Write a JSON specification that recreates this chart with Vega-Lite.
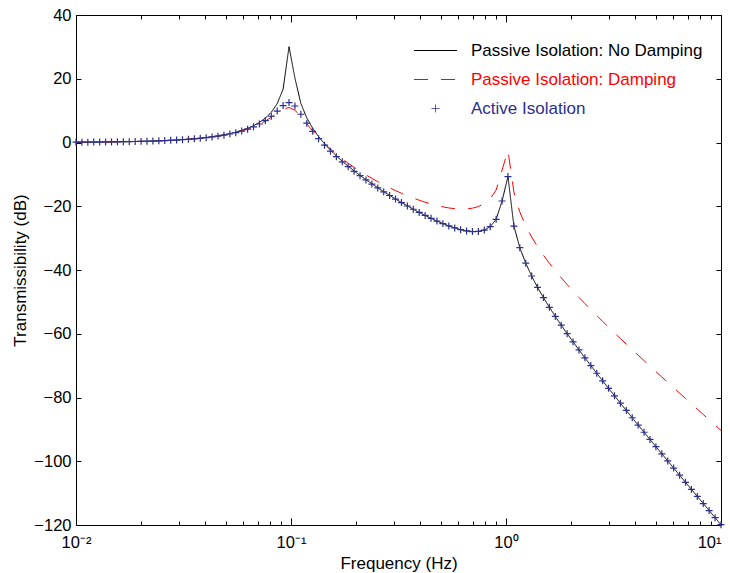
{
  "$schema": "https://vega.github.io/schema/vega-lite/v6.json",
  "width": 645,
  "height": 510,
  "autosize": {"type": "none"},
  "padding": {"left": 76, "top": 15, "right": 9, "bottom": 48},
  "background": "white",
  "config": {
    "font": "Liberation Sans",
    "view": {"stroke": "black", "strokeWidth": 1},
    "axis": {"grid": false, "domain": false, "tickColor": "black", "tickWidth": 1, "labelColor": "black", "labelFontSize": 16.5, "titleColor": "black", "titleFontSize": 17, "titleFontWeight": "normal", "labelFont": "Liberation Sans", "titleFont": "Liberation Sans"},
    "legend": {"title": null, "orient": "none", "legendX": 351, "legendY": 27, "padding": 0, "symbolSize": 100, "labelOffset": 27, "rowPadding": 11, "labelFontSize": 17, "labelFont": "Liberation Sans", "symbolStrokeWidth": 1, "labelLimit": 400}
  },
  "data": {"values": [
    {"f":0.01,"nd":0.09,"d":0.09,"a":0.09},
    {"f":0.010654,"nd":0.10,"d":0.10,"a":0.10},
    {"f":0.011351,"nd":0.12,"d":0.12,"a":0.11},
    {"f":0.012094,"nd":0.13,"d":0.13,"a":0.13},
    {"f":0.012885,"nd":0.15,"d":0.15,"a":0.14},
    {"f":0.013728,"nd":0.17,"d":0.17,"a":0.16},
    {"f":0.014626,"nd":0.19,"d":0.19,"a":0.19},
    {"f":0.015583,"nd":0.22,"d":0.22,"a":0.21},
    {"f":0.016603,"nd":0.25,"d":0.25,"a":0.24},
    {"f":0.017689,"nd":0.28,"d":0.28,"a":0.27},
    {"f":0.018847,"nd":0.32,"d":0.32,"a":0.31},
    {"f":0.02008,"nd":0.37,"d":0.36,"a":0.35},
    {"f":0.021393,"nd":0.42,"d":0.41,"a":0.40},
    {"f":0.022793,"nd":0.47,"d":0.47,"a":0.46},
    {"f":0.024284,"nd":0.54,"d":0.54,"a":0.52},
    {"f":0.025873,"nd":0.61,"d":0.61,"a":0.60},
    {"f":0.027566,"nd":0.70,"d":0.70,"a":0.68},
    {"f":0.02937,"nd":0.80,"d":0.79,"a":0.77},
    {"f":0.031291,"nd":0.91,"d":0.90,"a":0.88},
    {"f":0.033338,"nd":1.04,"d":1.03,"a":1.01},
    {"f":0.03552,"nd":1.19,"d":1.18,"a":1.15},
    {"f":0.037843,"nd":1.37,"d":1.35,"a":1.32},
    {"f":0.04032,"nd":1.57,"d":1.54,"a":1.51},
    {"f":0.042957,"nd":1.81,"d":1.77,"a":1.74},
    {"f":0.045768,"nd":2.08,"d":2.03,"a":2.00},
    {"f":0.048763,"nd":2.41,"d":2.34,"a":2.30},
    {"f":0.051953,"nd":2.79,"d":2.70,"a":2.66},
    {"f":0.055352,"nd":3.24,"d":3.12,"a":3.08},
    {"f":0.058973,"nd":3.79,"d":3.61,"a":3.59},
    {"f":0.062832,"nd":4.45,"d":4.20,"a":4.19},
    {"f":0.066943,"nd":5.27,"d":4.89,"a":4.91},
    {"f":0.071322,"nd":6.31,"d":5.73,"a":5.80},
    {"f":0.075989,"nd":7.66,"d":6.73,"a":6.89},
    {"f":0.08096,"nd":9.49,"d":7.91,"a":8.23},
    {"f":0.086257,"nd":12.17,"d":9.23,"a":9.85},
    {"f":0.091901,"nd":16.75,"d":10.47,"a":11.58},
    {"f":0.097913,"nd":30.06,"d":10.99,"a":12.54},
    {"f":0.10432,"nd":20.17,"d":10.14,"a":11.45},
    {"f":0.11114,"nd":12.23,"d":8.17,"a":8.86},
    {"f":0.11841,"nd":7.73,"d":5.86,"a":6.06},
    {"f":0.12616,"nd":4.46,"d":3.62,"a":3.49},
    {"f":0.13441,"nd":1.83,"d":1.55,"a":1.20},
    {"f":0.14321,"nd":-0.42,"d":-0.33,"a":-0.85},
    {"f":0.15258,"nd":-2.41,"d":-2.06,"a":-2.73},
    {"f":0.16256,"nd":-4.22,"d":-3.65,"a":-4.45},
    {"f":0.17319,"nd":-5.89,"d":-5.12,"a":-6.07},
    {"f":0.18453,"nd":-7.45,"d":-6.50,"a":-7.59},
    {"f":0.1966,"nd":-8.92,"d":-7.79,"a":-9.04},
    {"f":0.20946,"nd":-10.33,"d":-9.01,"a":-10.42},
    {"f":0.22317,"nd":-11.67,"d":-10.17,"a":-11.75},
    {"f":0.23777,"nd":-12.96,"d":-11.26,"a":-13.03},
    {"f":0.25332,"nd":-14.21,"d":-12.30,"a":-14.26},
    {"f":0.2699,"nd":-15.42,"d":-13.28,"a":-15.46},
    {"f":0.28756,"nd":-16.59,"d":-14.21,"a":-16.63},
    {"f":0.30637,"nd":-17.72,"d":-15.10,"a":-17.76},
    {"f":0.32642,"nd":-18.83,"d":-15.93,"a":-18.85},
    {"f":0.34777,"nd":-19.89,"d":-16.71,"a":-19.92},
    {"f":0.37053,"nd":-20.92,"d":-17.44,"a":-20.94},
    {"f":0.39477,"nd":-21.92,"d":-18.11,"a":-21.94},
    {"f":0.4206,"nd":-22.87,"d":-18.73,"a":-22.89},
    {"f":0.44812,"nd":-23.78,"d":-19.29,"a":-23.79},
    {"f":0.47744,"nd":-24.64,"d":-19.78,"a":-24.65},
    {"f":0.50867,"nd":-25.43,"d":-20.20,"a":-25.45},
    {"f":0.54195,"nd":-26.16,"d":-20.53,"a":-26.17},
    {"f":0.57741,"nd":-26.80,"d":-20.76,"a":-26.81},
    {"f":0.61519,"nd":-27.34,"d":-20.88,"a":-27.35},
    {"f":0.65544,"nd":-27.73,"d":-20.84,"a":-27.74},
    {"f":0.69833,"nd":-27.94,"d":-20.60,"a":-27.95},
    {"f":0.74402,"nd":-27.90,"d":-20.10,"a":-27.90},
    {"f":0.7927,"nd":-27.46,"d":-19.20,"a":-27.47},
    {"f":0.84456,"nd":-26.39,"d":-17.66,"a":-26.40},
    {"f":0.89982,"nd":-24.10,"d":-14.88,"a":-24.10},
    {"f":0.9587,"nd":-18.36,"d":-8.65,"a":-18.36},
    {"f":1.02135,"nd":-10.69,"d":-2.5,"a":-10.69},
    {"f":1.08817,"nd":-26.21,"d":-15.51,"a":-26.22},
    {"f":1.15936,"nd":-32.98,"d":-21.77,"a":-32.99},
    {"f":1.23522,"nd":-37.86,"d":-26.14,"a":-37.86},
    {"f":1.31604,"nd":-41.89,"d":-29.66,"a":-41.89},
    {"f":1.40214,"nd":-45.44,"d":-32.68,"a":-45.44},
    {"f":1.49389,"nd":-48.67,"d":-35.39,"a":-48.67},
    {"f":1.59163,"nd":-51.70,"d":-37.89,"a":-51.70},
    {"f":1.69576,"nd":-54.56,"d":-40.23,"a":-54.56},
    {"f":1.80672,"nd":-57.31,"d":-42.44,"a":-57.31},
    {"f":1.92493,"nd":-59.97,"d":-44.57,"a":-59.97},
    {"f":2.05087,"nd":-62.55,"d":-46.61,"a":-62.55},
    {"f":2.18506,"nd":-65.07,"d":-48.60,"a":-65.07},
    {"f":2.32797,"nd":-67.55,"d":-50.54,"a":-67.55},
    {"f":2.48027,"nd":-69.99,"d":-52.44,"a":-69.99},
    {"f":2.64255,"nd":-72.39,"d":-54.30,"a":-72.39},
    {"f":2.81545,"nd":-74.77,"d":-56.13,"a":-74.77},
    {"f":2.99966,"nd":-77.12,"d":-57.94,"a":-77.12},
    {"f":3.19592,"nd":-79.46,"d":-59.73,"a":-79.46},
    {"f":3.40503,"nd":-81.77,"d":-61.50,"a":-81.77},
    {"f":3.62781,"nd":-84.07,"d":-63.26,"a":-84.07},
    {"f":3.86518,"nd":-86.36,"d":-65.00,"a":-86.36},
    {"f":4.11807,"nd":-88.64,"d":-66.73,"a":-88.64},
    {"f":4.3875,"nd":-90.90,"d":-68.45,"a":-90.90},
    {"f":4.67456,"nd":-93.16,"d":-70.16,"a":-93.16},
    {"f":4.98041,"nd":-95.42,"d":-71.87,"a":-95.42},
    {"f":5.30627,"nd":-97.66,"d":-73.56,"a":-97.66},
    {"f":5.65344,"nd":-99.90,"d":-75.26,"a":-99.90},
    {"f":6.02332,"nd":-102.14,"d":-76.94,"a":-102.14},
    {"f":6.41737,"nd":-104.37,"d":-78.63,"a":-104.37},
    {"f":6.83723,"nd":-106.60,"d":-80.31,"a":-106.60},
    {"f":7.28456,"nd":-108.82,"d":-81.98,"a":-108.82},
    {"f":7.76116,"nd":-111.05,"d":-83.65,"a":-111.05},
    {"f":8.26895,"nd":-113.27,"d":-85.32,"a":-113.27},
    {"f":8.80994,"nd":-115.48,"d":-86.99,"a":-115.48},
    {"f":9.38634,"nd":-117.70,"d":-88.66,"a":-117.70},
    {"f":10,"nd":-119.91,"d":-90.32,"a":-119.91}
  ]},
  "resolve": {"axis": {"x": "independent", "y": "independent"}},
  "layer": [
    {
      "mark": {"type": "line", "strokeWidth": 1},
      "encoding": {
        "x": {"field": "f", "type": "quantitative",
          "scale": {"type": "log", "domain": [0.01, 10], "nice": false},
          "axis": {"orient": "bottom", "title": "Frequency (Hz)", "titlePadding": 2,
            "values": [0.01,0.02,0.03,0.04,0.05,0.06,0.07,0.08,0.09,0.1,0.2,0.3,0.4,0.5,0.6,0.7,0.8,0.9,1,2,3,4,5,6,7,8,9,10],
            "labelExpr": "datum.value == 0.01 ? '10⁻²' : datum.value == 0.1 ? '10⁻¹' : datum.value == 1 ? '10⁰' : datum.value == 10 ? '10¹' : ''",
            "labelAlign": {"condition": {"test": "datum.value == 10", "value": "right"}, "value": "center"},
            "tickSize": {"condition": {"test": "indexof([0.01,0.1,1,10], datum.value) >= 0", "value": -7}, "value": -4},
            "labelPadding": 16, "labelFlush": false, "labelOverlap": false}},
        "y": {"field": "nd", "type": "quantitative",
          "scale": {"domain": [-120, 40], "nice": false, "zero": false},
          "axis": {"orient": "left", "title": "Transmissibility (dB)", "titlePadding": 4,
            "values": [-120,-100,-80,-60,-40,-20,0,20,40], "tickSize": -5, "labelPadding": 10}},
        "color": {"datum": "Passive Isolation: No Damping",
          "scale": {"domain": ["Passive Isolation: No Damping", "Passive Isolation: Damping", "Active Isolation"], "range": ["#000000", "#ff0000", "#2b2f8f"]},
          "legend": {"encode": {"labels": {"update": {"fill": {"signal": "datum.label == 'Active Isolation' ? '#2b2f8f' : datum.label == 'Passive Isolation: Damping' ? '#ff0000' : '#000000'"}}}}}},
        "strokeDash": {"datum": "Passive Isolation: No Damping",
          "scale": {"domain": ["Passive Isolation: No Damping", "Passive Isolation: Damping", "Active Isolation"], "range": [[1,0],[14,13],[1,0]]}}
      }
    },
    {
      "mark": {"type": "line", "strokeWidth": 1},
      "encoding": {
        "x": {"field": "f", "type": "quantitative", "axis": null},
        "y": {"field": "d", "type": "quantitative", "axis": null},
        "color": {"datum": "Passive Isolation: Damping"},
        "strokeDash": {"datum": "Passive Isolation: Damping"}
      }
    },
    {
      "mark": {"type": "point", "filled": false, "strokeWidth": 1.2, "size": 80, "opacity": 1},
      "encoding": {
        "x": {"field": "f", "type": "quantitative",
          "axis": {"orient": "top", "title": null, "labels": false,
            "values": [0.01,0.02,0.03,0.04,0.05,0.06,0.07,0.08,0.09,0.1,0.2,0.3,0.4,0.5,0.6,0.7,0.8,0.9,1,2,3,4,5,6,7,8,9,10],
            "tickSize": {"condition": {"test": "indexof([0.01,0.1,1,10], datum.value) >= 0", "value": -7}, "value": -4}}},
        "y": {"field": "a", "type": "quantitative",
          "axis": {"orient": "right", "title": null, "labels": false, "values": [-120,-100,-80,-60,-40,-20,0,20,40], "tickSize": -5}},
        "color": {"datum": "Active Isolation"},
        "shape": {"datum": "Active Isolation",
          "scale": {"domain": ["Passive Isolation: No Damping", "Passive Isolation: Damping", "Active Isolation"], "range": ["M-4.3,0H4.3", "M-4.3,0H4.3", "M-0.78,0H0.78M0,-0.78V0.78"]}}
      }
    }
  ]
}
